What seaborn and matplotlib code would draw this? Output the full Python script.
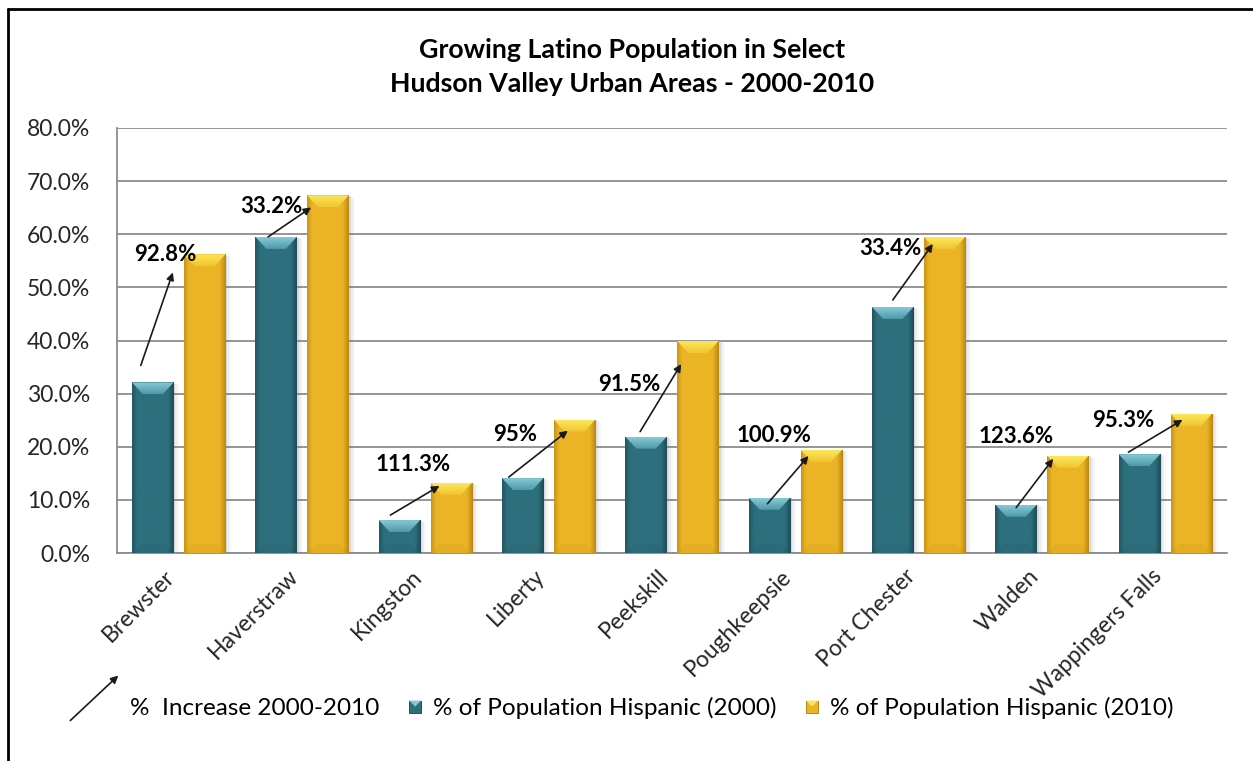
import numpy as np
import pandas as pd
import matplotlib
matplotlib.use("Agg")
import matplotlib.pyplot as plt
import matplotlib.transforms as mtransforms
import seaborn as sns
from matplotlib.patches import Polygon, Rectangle, FancyArrowPatch
from matplotlib.legend_handler import HandlerBase
from matplotlib.lines import Line2D
from matplotlib.colors import to_rgb

# ---- data -------------------------------------------------------------
cities = ["Brewster", "Haverstraw", "Kingston", "Liberty", "Peekskill",
          "Poughkeepsie", "Port Chester", "Walden", "Wappingers Falls"]
hispanic_2000 = [32.1, 59.5, 6.2, 14.1, 21.9, 10.4, 46.3, 9.1, 18.6]
hispanic_2010 = [56.2, 67.3, 13.2, 25.1, 39.9, 19.4, 59.5, 18.3, 26.2]
increase_labels = ["92.8%", "33.2%", "111.3%", "95%", "91.5%",
                   "100.9%", "33.4%", "123.6%", "95.3%"]
series_names = ["% of Population Hispanic (2000)",
                "% of Population Hispanic (2010)"]
arrow_legend_label = "%  Increase 2000-2010"
y_ticks = [0, 10, 20, 30, 40, 50, 60, 70, 80]
title_text = "Growing Latino Population in Select\nHudson Valley Urban Areas - 2000-2010"

# ---- layout tweaks (pixels) --------------------------------------------
# label offset from (2000-bar centre, 2010 value)
label_offsets = [(13, 0), (-5, -11), (14, 18), (-8, -15), (-17, -43),
                 (5, 14), (-2, -12), (0, 19), (-16, -7)]
# arrow tail offset from 2000-bar top centre, head offset from 2010-bar top-left
arrow_tail_offsets = [(-12, 17), (-8, 0), (-9, 5), (-14, 1), (-6, 5),
                      (-2, -6), (0, 7), (0, -3), (-11, 2)]
arrow_head_offsets = [(-11, -18), (4, -12), (9, -3), (14, -11), (4, -23),
                      (8, -6), (9, -7), (6, -3), (12, -6)]

TEAL = "#2e6f7d"
GOLD = "#ebb426"
TEAL_LIGHT = ("#86c9d6", "#4f9aab")
GOLD_LIGHT = ("#fbe65a", "#f1c630")
TEAL_DARK = "#163f49"
GOLD_DARK = "#a8780c"
GRID = "#8c8c8c"
DPI = 100
W_PX, H_PX = 1253, 761


def pt(v):
    return v * 72.0 / DPI


sns.set_style("white")
plt.rcParams["font.family"] = ["Lato", "DejaVu Sans"]
plt.rcParams["text.color"] = "black"

df = pd.DataFrame({
    "city": cities * 2,
    "share": hispanic_2000 + hispanic_2010,
    "series": [series_names[0]] * len(cities) + [series_names[1]] * len(cities),
})

fig = plt.figure(figsize=(W_PX / DPI, H_PX / DPI), dpi=DPI)
ax = fig.add_axes([117 / W_PX, (H_PX - 553) / H_PX, 1110 / W_PX, 425 / H_PX])

sns.barplot(data=df, x="city", y="share", hue="series", order=cities,
            hue_order=series_names, palette=[TEAL, GOLD], saturation=1,
            width=0.84, gap=0.2, legend=False, ax=ax, linewidth=0,
            edgecolor="none", zorder=3)

ax.set_xlim(-0.5, len(cities) - 0.5)
ax.set_ylim(0, 80)
ax.set_xlabel("")
ax.set_ylabel("")
ax.set_yticks(y_ticks)
ax.set_yticklabels([f"{t:.1f}%" for t in y_ticks])
ax.yaxis.grid(True, color=GRID, lw=1.3)
ax.set_axisbelow(True)
for side in ("top", "right"):
    ax.spines[side].set_visible(False)
for side in ("left", "bottom"):
    ax.spines[side].set_color(GRID)
    ax.spines[side].set_linewidth(1.3)
ax.tick_params(axis="y", length=0, pad=pt(27), labelsize=16.5)
ax.tick_params(axis="x", length=0, pad=pt(20), labelsize=16.5)
label_shift = mtransforms.ScaledTranslation(-7 / DPI, 0, fig.dpi_scale_trans)
for lbl in ax.get_xticklabels():
    lbl.set_rotation(45)
    lbl.set_ha("right")
    lbl.set_va("center")
    lbl.set_rotation_mode("anchor")
    lbl.set_transform(lbl.get_transform() + label_shift)

# pixel -> data scale factors
o = ax.transData.transform((0, 0))
sx = ax.transData.transform((1, 0))[0] - o[0]
sy = ax.transData.transform((0, 1))[1] - o[1]


def blend(c1, c2, w):
    a, b = np.array(to_rgb(c1)), np.array(to_rgb(c2))
    return (1 - w) * a + w * b


def bevel(rect, base, dark, light):
    x0, w, h = rect.get_x(), rect.get_width(), rect.get_height()
    x1 = x0 + w
    wpx = w * sx
    # soft shadow to the right
    for k, a in zip((2, 4, 6), (0.18, 0.10, 0.05)):
        ax.add_patch(Rectangle((x0 + k / sx, 0.0), w, h - k / sy * 0.3,
                               facecolor="#808080", alpha=a, lw=0, zorder=2.5))
    # horizontal shading across the face
    n = int(max(wpx, 2))
    t = np.arange(n) + 0.5
    wl = np.clip(1 - t / 5.0, 0, 1) * 0.55
    wr = np.clip(1 - (n - t) / 6.0, 0, 1) * 0.75
    row = np.array([blend(base, dark, max(a, b)) for a, b in zip(wl, wr)])
    img = ax.imshow(row[None, :, :], extent=[x0, x1, 0, h], aspect="auto",
                    interpolation="bilinear", zorder=3.1)
    img.set_clip_path(rect)
    # top bevel
    bx, by = 11 / sx, 12 / sy
    by = min(by, h * 0.5)
    top = Polygon([(x0, h), (x1, h), (x1 - bx, h - by), (x0 + bx, h - by)],
                  closed=True, facecolor="none", edgecolor="none", zorder=3.2)
    ax.add_patch(top)
    m = 20
    col = np.array([blend(light[0], light[1], i / (m - 1)) for i in range(m)])
    timg = ax.imshow(col[:, None, :], extent=[x0, x1, h - by, h], aspect="auto",
                     interpolation="bilinear", zorder=3.2)
    timg.set_clip_path(top)
    # bottom bevel
    bb = 9 / sy
    ax.add_patch(Polygon([(x0, 0), (x1, 0), (x1 - 9 / sx, bb), (x0 + 9 / sx, bb)],
                         closed=True, facecolor=dark, alpha=0.10, lw=0, zorder=3.3))


containers = ax.containers
for rect in containers[0]:
    bevel(rect, TEAL, TEAL_DARK, TEAL_LIGHT)
for rect in containers[1]:
    bevel(rect, GOLD, GOLD_DARK, GOLD_LIGHT)

ax.set_xlim(-0.5, len(cities) - 0.5)
ax.set_ylim(0, 80)

# growth arrows and labels
for i, (r0, r1) in enumerate(zip(containers[0], containers[1])):
    tail_x = r0.get_x() + r0.get_width() / 2
    head_x = r1.get_x()
    tdx, tdy = arrow_tail_offsets[i]
    hdx, hdy = arrow_head_offsets[i]
    tr_tail = mtransforms.offset_copy(ax.transData, fig=fig, x=tdx, y=tdy, units="dots")
    tr_head = mtransforms.offset_copy(ax.transData, fig=fig, x=hdx, y=hdy, units="dots")
    ax.annotate("", xy=(head_x, hispanic_2010[i]), xycoords=tr_head,
                xytext=(tail_x, hispanic_2000[i]), textcoords=tr_tail,
                arrowprops=dict(arrowstyle="-|>", color="#1a1a1a", lw=1.2,
                                mutation_scale=11, shrinkA=0, shrinkB=0),
                zorder=5)
    ldx, ldy = label_offsets[i]
    ax.annotate(increase_labels[i], xy=(tail_x, hispanic_2010[i]),
                xytext=(pt(ldx), pt(ldy)), textcoords="offset points",
                ha="center", va="center", fontsize=16, fontweight="bold",
                zorder=6)

# title
fig.text(632 / W_PX, 1 - 67 / H_PX, title_text, ha="center", va="center",
         fontsize=19.3, fontweight="bold", linespacing=1.55)


# legend
class ArrowHandler(HandlerBase):
    def create_artists(self, legend, orig_handle, xdescent, ydescent,
                       width, height, fontsize, trans):
        x1 = -xdescent + width
        yc = -ydescent + height / 2
        a = FancyArrowPatch((x1 - pt(48), yc - pt(14)), (x1, yc + pt(31)),
                            arrowstyle="-|>", mutation_scale=11, lw=1.2,
                            color="#1a1a1a", shrinkA=0, shrinkB=0,
                            transform=trans)
        return [a]


class SquareHandler(HandlerBase):
    def __init__(self, face, dark, light):
        super().__init__()
        self.face, self.dark, self.light = face, dark, light

    def create_artists(self, legend, orig_handle, xdescent, ydescent,
                       width, height, fontsize, trans):
        s = pt(12)
        x1 = -xdescent + width
        yc = -ydescent + height / 2
        xa, ya = x1 - s, yc - s / 2
        sq = Rectangle((xa, ya), s, s, facecolor=self.face,
                       edgecolor=self.dark, lw=0.6, transform=trans)
        tri = Polygon([(xa, ya + s), (xa + s, ya + s), (xa + s / 2, ya + s / 2)],
                      closed=True, facecolor=self.light, lw=0, transform=trans)
        return [sq, tri]


h_arrow = Line2D([], [])
h_2000 = Line2D([], [])
h_2010 = Line2D([], [])
fig.legend([h_arrow, h_2000, h_2010],
           [arrow_legend_label, series_names[0], series_names[1]],
           handler_map={h_arrow: ArrowHandler(),
                        h_2000: SquareHandler(TEAL, TEAL_DARK, TEAL_LIGHT[0]),
                        h_2010: SquareHandler(GOLD, GOLD_DARK, GOLD_LIGHT[0])},
           loc="center left", bbox_to_anchor=(94 / W_PX, 1 - 708 / H_PX),
           ncol=3, frameon=False, fontsize=17.5, handlelength=1.0,
           handletextpad=0.5, columnspacing=0.7, borderpad=0, borderaxespad=0)

# outer frame (top and left edges)
fig.add_artist(Line2D([8 / W_PX, 8 / W_PX], [0, 1 - 9 / H_PX], color="black",
                      lw=2, transform=fig.transFigure))
fig.add_artist(Line2D([8 / W_PX, 1], [1 - 9 / H_PX, 1 - 9 / H_PX], color="black",
                      lw=2, transform=fig.transFigure))

fig.savefig("out.png", dpi=DPI, facecolor="white")
